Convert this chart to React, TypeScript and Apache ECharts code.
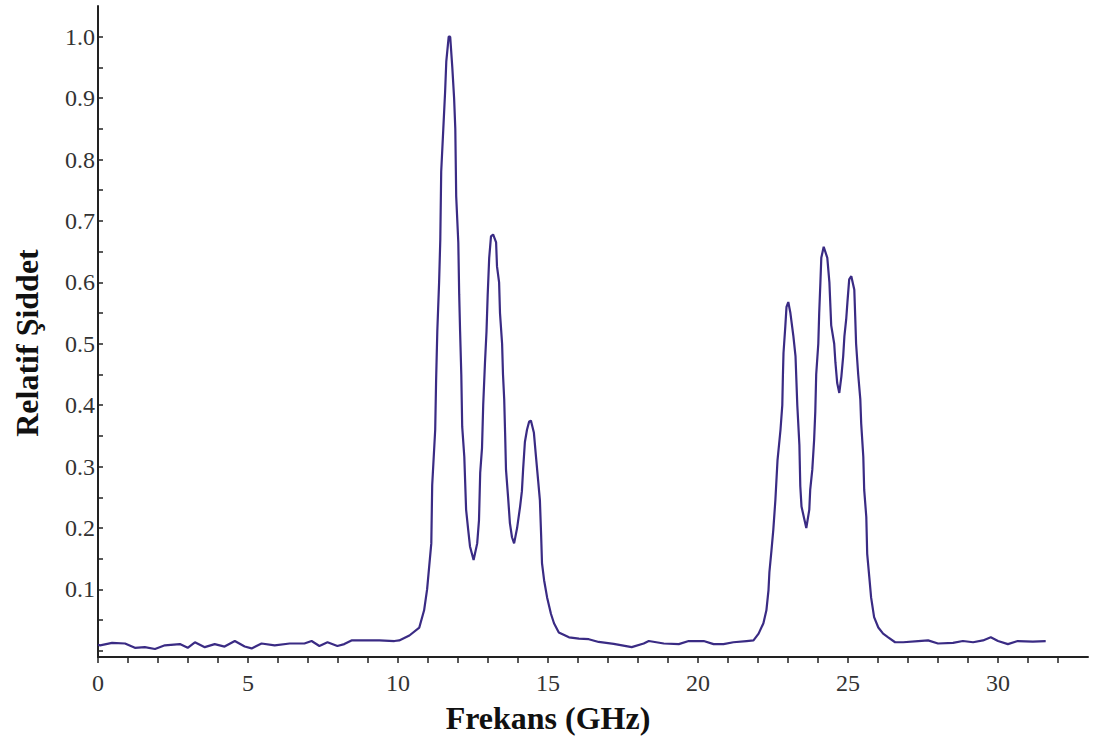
import React, { useEffect, useRef } from "react";
import * as echarts from "echarts";

// Frequency (GHz) samples
const freq: number[] = [
  0.0, 0.07, 0.47, 0.9, 1.23, 1.56, 1.9, 2.23, 2.73, 2.99, 3.23, 3.56, 3.89, 4.22, 4.56, 4.89,
  5.12, 5.45, 5.89, 6.39, 6.88, 7.12, 7.38, 7.65, 7.98, 8.21, 8.45, 8.88, 9.38, 9.88,
  10.04, 10.38, 10.71, 10.87, 10.97, 11.11, 11.14, 11.24, 11.27, 11.31, 11.37, 11.41, 11.44,
  11.51, 11.57, 11.61, 11.69, 11.74, 11.81, 11.87, 11.91, 11.94, 12.01, 12.04, 12.07, 12.11,
  12.14, 12.21, 12.27, 12.34, 12.4, 12.52, 12.64, 12.7, 12.74, 12.8, 12.84, 12.9, 12.95,
  12.99, 13.04, 13.1, 13.17, 13.27, 13.3, 13.37, 13.4, 13.47, 13.5, 13.54, 13.57, 13.6,
  13.67, 13.73, 13.8, 13.87, 13.97, 14.07, 14.13, 14.17, 14.23, 14.3, 14.37, 14.43, 14.53,
  14.6, 14.67, 14.73, 14.77, 14.8, 14.87, 14.97, 15.1, 15.2, 15.36, 15.7, 16.03, 16.36,
  16.69, 17.19, 17.79, 18.19, 18.36, 18.86, 19.36, 19.69, 20.19, 20.52, 20.85, 21.18, 21.62,
  21.85, 22.02, 22.18, 22.28, 22.35, 22.38, 22.45, 22.51, 22.58, 22.65, 22.75, 22.81, 22.83,
  22.85, 22.91, 22.95, 23.01, 23.08, 23.18, 23.25, 23.31, 23.38, 23.41, 23.45, 23.55, 23.61,
  23.71, 23.74, 23.81, 23.87, 23.91, 23.94, 24.01, 24.04, 24.08, 24.11, 24.19, 24.31, 24.38,
  24.44, 24.54, 24.58, 24.64, 24.71, 24.78, 24.84, 24.88, 24.94, 24.98, 25.04, 25.11, 25.21,
  25.24, 25.27, 25.34, 25.41, 25.44, 25.51, 25.54, 25.61, 25.64, 25.71, 25.77, 25.87, 26.01,
  26.17, 26.34, 26.57, 26.84, 27.34, 27.67, 28.0, 28.5, 28.83, 29.17, 29.5, 29.76, 30.0,
  30.33, 30.66, 31.16, 31.59,
];

// Relative intensity at each frequency
const intensity: number[] = [
  0.01, 0.009, 0.013, 0.012, 0.005, 0.006, 0.003, 0.009, 0.011, 0.005, 0.014, 0.006, 0.011, 0.007, 0.016, 0.007,
  0.004, 0.012, 0.009, 0.012, 0.012, 0.016, 0.008, 0.014, 0.008, 0.011, 0.017, 0.017, 0.017, 0.016,
  0.017, 0.025, 0.038, 0.066, 0.1, 0.175, 0.27, 0.36, 0.44, 0.52, 0.6, 0.67, 0.78,
  0.85, 0.91, 0.96, 1.0, 1.0, 0.95, 0.9, 0.85, 0.74, 0.665, 0.58, 0.52, 0.45,
  0.365, 0.316, 0.23, 0.197, 0.17, 0.148, 0.175, 0.213, 0.29, 0.33, 0.4, 0.47, 0.52,
  0.58, 0.64, 0.675, 0.678, 0.665, 0.626, 0.6, 0.55, 0.5, 0.45, 0.41, 0.355, 0.295,
  0.25, 0.208, 0.185, 0.175, 0.2, 0.235, 0.26, 0.295, 0.34, 0.36, 0.373, 0.375, 0.355,
  0.316, 0.278, 0.245, 0.19, 0.143, 0.115, 0.087, 0.06, 0.045, 0.03, 0.022, 0.02, 0.019,
  0.0145, 0.0115, 0.006, 0.012, 0.016, 0.012, 0.011, 0.016, 0.016, 0.011, 0.011, 0.014, 0.016,
  0.017, 0.028, 0.045, 0.066, 0.099, 0.128, 0.164, 0.197, 0.246, 0.31, 0.36, 0.4, 0.447,
  0.485, 0.528, 0.56, 0.568, 0.55, 0.512, 0.48, 0.4, 0.335, 0.268, 0.235, 0.213, 0.2,
  0.23, 0.262, 0.295, 0.343, 0.39, 0.45, 0.5, 0.55, 0.6, 0.64, 0.658, 0.64, 0.6,
  0.53, 0.5, 0.47, 0.436, 0.42, 0.447, 0.48, 0.512, 0.54, 0.567, 0.605, 0.61, 0.588,
  0.545, 0.5, 0.45, 0.41, 0.37, 0.316, 0.262, 0.218, 0.158, 0.12, 0.087, 0.055, 0.038,
  0.028, 0.022, 0.014, 0.014, 0.016, 0.017, 0.012, 0.013, 0.016, 0.014, 0.017, 0.022, 0.016,
  0.011, 0.016, 0.015, 0.016,
];

const xTickLabels: number[] = [0, 5, 10, 15, 20, 25, 30];
const xTicks: number[] = Array.from({ length: 33 }, (_, i) => i);
const yTickLabels: number[] = [0.1, 0.2, 0.3, 0.4, 0.5, 0.6, 0.7, 0.8, 0.9, 1.0];
const yTicks: number[] = [0, 0.05, 0.1, 0.15, 0.2, 0.25, 0.3, 0.35, 0.4, 0.45, 0.5, 0.55, 0.6, 0.65, 0.7, 0.75, 0.8, 0.85, 0.9, 0.95, 1.0];

const xTitle = "Frekans (GHz)";
const yTitle = "Relatif Şiddet";

export default function App() {
  const ref = useRef<HTMLDivElement>(null);
  useEffect(() => {
    if (!ref.current) return;
    const chart = echarts.init(ref.current, undefined, { renderer: "svg" });
    const font = "'Liberation Serif', 'Times New Roman', serif";
    const axisColor = "#222";
    chart.setOption({
      animation: false,
      backgroundColor: "#fff",
      grid: { left: 98, right: 10, top: 6, bottom: 82, containLabel: false },
      xAxis: {
        type: "value",
        min: 0,
        max: 33,
        axisLine: { show: true, onZero: false, lineStyle: { color: axisColor, width: 2 } },
        axisTick: { show: true, inside: false, length: 6, customValues: xTicks, lineStyle: { color: axisColor, width: 1.5 } },
        axisLabel: {
          show: true,
          customValues: xTickLabels,
          margin: 14,
          color: "#333",
          fontFamily: font,
          fontSize: 24,
          formatter: (v: number) => String(v),
        },
        splitLine: { show: false },
      },
      yAxis: {
        type: "value",
        min: -0.01,
        max: 1.05,
        axisLine: { show: true, onZero: false, lineStyle: { color: axisColor, width: 2 } },
        axisTick: { show: true, inside: true, length: 5, customValues: yTicks, lineStyle: { color: axisColor, width: 1.5 } },
        axisLabel: {
          show: true,
          customValues: yTickLabels,
          margin: 3,
          color: "#333",
          fontFamily: font,
          fontSize: 24,
          formatter: (v: number) => v.toFixed(1),
        },
        splitLine: { show: false },
      },
      series: [
        {
          type: "line",
          data: freq.map((f, i) => [f, intensity[i]]),
          showSymbol: false,
          symbol: "none",
          lineStyle: { color: "#3a2b84", width: 2.2 },
          z: 3,
        },
      ],
      graphic: [
        {
          type: "text",
          x: 548,
          y: 718,
          style: {
            text: xTitle,
            fontFamily: font,
            fontWeight: "bold",
            fontSize: 32,
            fill: "#111",
            align: "center",
            verticalAlign: "middle",
          },
        },
        {
          type: "text",
          x: 27,
          y: 343,
          rotation: Math.PI / 2,
          style: {
            text: yTitle,
            fontFamily: font,
            fontWeight: "bold",
            fontSize: 32,
            fill: "#111",
            align: "center",
            verticalAlign: "middle",
          },
        },
      ],
    });
    return () => chart.dispose();
  }, []);
  return (
    <div
      ref={ref}
      style={{ position: "fixed", left: 0, top: 0, width: 1098, height: 739 }}
    />
  );
}
